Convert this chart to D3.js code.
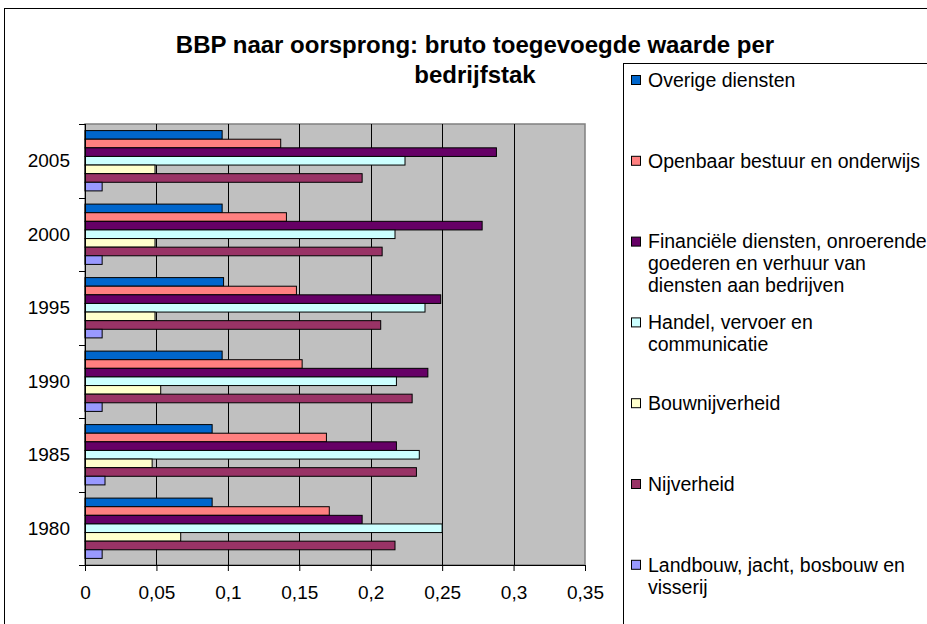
<!DOCTYPE html>
<html><head><meta charset="utf-8">
<script src="https://cdn.jsdelivr.net/npm/d3@7"></script>
<style>body{margin:0;background:#fff} svg{display:block} text{font-family:Arial,"Liberation Sans",sans-serif;fill:#000}</style>
</head><body><svg id="c" width="927" height="624"></svg>
<script>
const years = ["1980","1985","1990","1995","2000","2005"];
const seriesNames = [
  "Overige diensten",
  "Openbaar bestuur en onderwijs",
  "Financiële diensten, onroerende\ngoederen en verhuur van\ndiensten aan bedrijven",
  "Handel, vervoer en\ncommunicatie",
  "Bouwnijverheid",
  "Nijverheid",
  "Landbouw, jacht, bosbouw en\nvisserij"
];
const seriesColors = ["#0066CC","#FF8080","#660066","#CCFFFF","#FFFFCC","#993366","#9999FF"];
const overige     = [0.089,0.089,0.096,0.097,0.096,0.096];
const openbaar    = [0.171,0.169,0.152,0.148,0.141,0.137];
const financieel  = [0.194,0.218,0.240,0.249,0.278,0.288];
const handel      = [0.250,0.234,0.218,0.238,0.217,0.224];
const bouw        = [0.067,0.047,0.053,0.049,0.049,0.049];
const nijverheid  = [0.217,0.232,0.229,0.207,0.208,0.194];
const landbouw    = [0.012,0.014,0.012,0.012,0.012,0.012];
const seriesValues = [overige, openbaar, financieel, handel, bouw, nijverheid, landbouw];
const xTicks = [0,0.05,0.1,0.15,0.2,0.25,0.3,0.35];
const titleLines = ["BBP naar oorsprong: bruto toegevoegde waarde per","bedrijfstak"];

const svg = d3.select("#c");
const L = 85, R = 585, T = 124, B = 565;

// outer chart border
svg.append("rect").attr("x",4.5).attr("y",8.5).attr("width",960).attr("height",700)
  .attr("fill","#fff").attr("stroke","#000").attr("stroke-width",1);

const x = d3.scaleLinear().domain([0,0.35]).range([L,R]);
const y = d3.scaleBand().domain(years.slice().reverse()).range([T,B]);
const pad = 6.6;
const y1 = d3.scaleBand().domain(d3.range(seriesNames.length)).range([pad, y.bandwidth()-pad]);

// plot background
svg.append("rect").attr("x",L).attr("y",T).attr("width",R-L).attr("height",B-T)
  .attr("fill","#C0C0C0").attr("stroke","#808080").attr("stroke-width",1.5);

// gridlines
svg.append("g").selectAll("line").data(xTicks.filter(d=>d>0 && d<0.35)).join("line")
  .attr("x1",d=>Math.round(x(d))+0.5).attr("x2",d=>Math.round(x(d))+0.5)
  .attr("y1",T).attr("y2",B).attr("stroke","#000").attr("stroke-width",1);

// bars
const groups = svg.append("g").selectAll("g").data(years).join("g")
  .attr("transform",d=>`translate(0,${y(d)})`);
groups.selectAll("rect").data((yr,i)=>seriesValues.map((s,k)=>({k,v:s[i]}))).join("rect")
  .attr("x",x(0)).attr("y",d=>y1(d.k)).attr("width",d=>x(d.v)-x(0)).attr("height",y1.bandwidth())
  .attr("fill",d=>seriesColors[d.k]).attr("stroke","#000").attr("stroke-width",1);

// x axis
const xa = svg.append("g").attr("transform",`translate(0,${B})`)
  .call(d3.axisBottom(x).tickValues(xTicks).tickSize(6).tickPadding(15)
    .tickFormat(d=>String(d).replace(".",",")));
xa.select(".domain").attr("stroke","#000");
xa.selectAll(".tick line").attr("stroke","#000");
xa.selectAll("text").attr("font-size",19).attr("font-family","Arial, 'Liberation Sans', sans-serif");

// y axis (category)
const ya = svg.append("g");
ya.append("line").attr("x1",L+0.5).attr("x2",L+0.5).attr("y1",T).attr("y2",B).attr("stroke","#000");
const bounds = years.map(d=>y(d)).concat([B]);
ya.selectAll("line.t").data(bounds).join("line").attr("class","t")
  .attr("x1",79).attr("x2",L).attr("y1",d=>Math.round(d)+0.5).attr("y2",d=>Math.round(d)+0.5).attr("stroke","#000");
ya.selectAll("text").data(years).join("text")
  .attr("x",70).attr("y",d=>y(d)+y.bandwidth()/2).attr("dy","0.35em")
  .attr("text-anchor","end").attr("font-size",19).text(d=>d);

// title
svg.append("g").selectAll("text").data(titleLines).join("text")
  .attr("x",475).attr("y",(d,i)=>45+i*30).attr("dy","0.35em")
  .attr("text-anchor","middle").attr("font-weight","bold").attr("font-size",24).text(d=>d);

// legend
svg.append("rect").attr("x",623.5).attr("y",63.5).attr("width",400).attr("height",700)
  .attr("fill","#fff").attr("stroke","#000").attr("stroke-width",1);
const lg = svg.append("g").selectAll("g").data(seriesNames).join("g")
  .attr("transform",(d,i)=>`translate(0,${80+i*80.8})`);
lg.append("rect").attr("x",631.5).attr("y",-4.5).attr("width",9).attr("height",9)
  .attr("fill",(d,i)=>seriesColors[i]).attr("stroke","#000").attr("stroke-width",1);
lg.each(function(d){
  const t = d3.select(this).append("text").attr("font-size",19.5);
  d.split("\n").forEach((ln,j)=>{
    t.append("tspan").attr("x",648).attr("y",j*22).attr("dy","0.35em").text(ln);
  });
});
</script></body></html>
